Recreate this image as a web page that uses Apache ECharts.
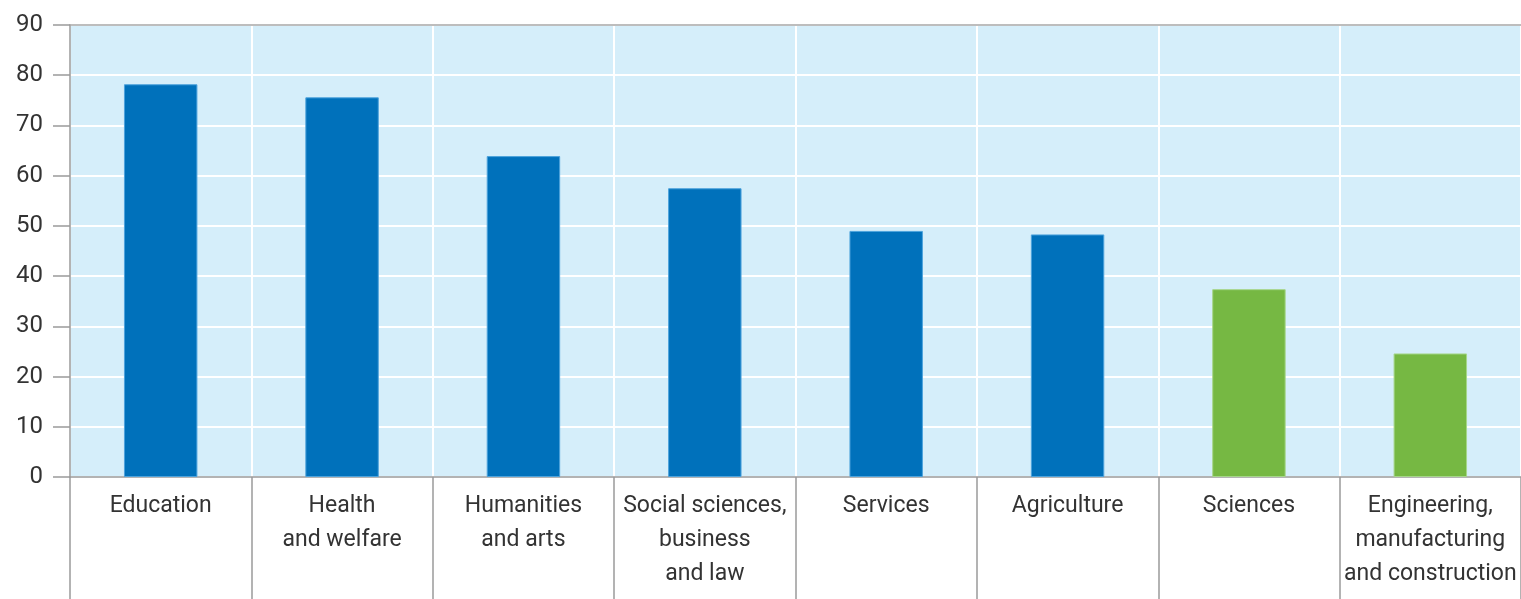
<!DOCTYPE html>
<html>
<head>
<meta charset="utf-8">
<script src="https://cdn.jsdelivr.net/npm/echarts@6/dist/echarts.min.js"></script>
<style>
html,body{margin:0;padding:0;background:#fff;overflow:hidden;}
#chart{width:1521px;height:599px;}
</style>
</head>
<body>
<div id="chart"></div>
<script>
const categories = ['Education', 'Health\nand welfare', 'Humanities\nand arts', 'Social sciences,\nbusiness\nand law', 'Services', 'Agriculture', 'Sciences', 'Engineering,\nmanufacturing\nand construction'];
const values = [78.2, 75.6, 63.9, 57.5, 49.0, 48.3, 37.4, 24.6];
const fieldGroup = ['other', 'other', 'other', 'other', 'other', 'other', 'stem', 'stem'];
const yTicks = [0, 10, 20, 30, 40, 50, 60, 70, 80, 90];

const groupStyle = {
  other: { color: '#0071bb', borderColor: '#4ea3dc' },
  stem: { color: '#76b843', borderColor: '#a6d68a' }
};
const FONT = "Roboto, 'Liberation Sans', sans-serif";

const chart = echarts.init(document.getElementById('chart'));
chart.setOption({
  animation: false,
  grid: { left: 70, right: -6, top: 25, bottom: 122, show: true, backgroundColor: '#d5eefa', borderWidth: 0 },
  xAxis: [{
    type: 'category',
    data: categories,
    axisLine: { show: true, lineStyle: { color: '#9a9a9a', width: 1.5 } },
    axisTick: { show: true, length: 125, interval: 0, lineStyle: { color: '#9a9a9a', width: 1.5 } },
    axisLabel: { interval: 0, margin: 12, fontSize: 23, lineHeight: 34, color: '#333', fontFamily: FONT },
    splitLine: { show: true, interval: 0, lineStyle: { color: '#ffffff', width: 2 } }
  }, {
    type: 'category',
    position: 'top',
    data: categories,
    axisLine: { show: true, lineStyle: { color: '#a8a8a8', width: 1.5 } },
    axisTick: { show: false },
    axisLabel: { show: false },
    splitLine: { show: false }
  }],
  yAxis: {
    type: 'value',
    min: yTicks[0],
    max: yTicks[yTicks.length - 1],
    interval: 10,
    axisLine: { show: true, lineStyle: { color: '#9a9a9a', width: 1.5 } },
    axisTick: { show: true, length: 17, lineStyle: { color: '#9a9a9a', width: 1.5 } },
    axisLabel: { margin: 27, fontSize: 24, color: '#333', fontFamily: FONT },
    splitLine: { show: true, lineStyle: { color: '#ffffff', width: 2 } }
  },
  series: [{
    type: 'bar',
    xAxisIndex: 0,
    barWidth: '40.5%',
    data: values.map((v, i) => ({ value: v, itemStyle: { color: groupStyle[fieldGroup[i]].color, borderColor: groupStyle[fieldGroup[i]].borderColor, borderWidth: 1 } }))
  }]
});
</script>
</body>
</html>
